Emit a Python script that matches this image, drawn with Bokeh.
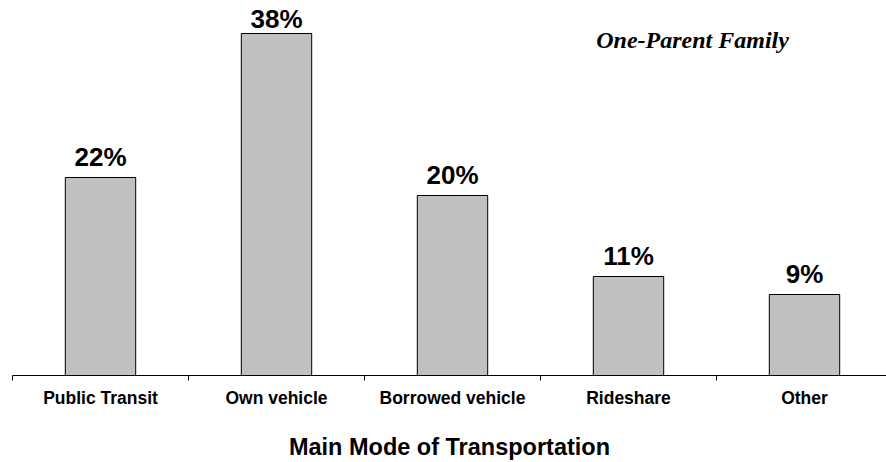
from bokeh.plotting import figure
from bokeh.models import ColumnDataSource, FixedTicker, Range1d, Label
from bokeh.core.properties import value
from bokeh.embed import file_html
from bokeh.resources import INLINE

categories = ["Public Transit", "Own vehicle", "Borrowed vehicle", "Rideshare", "Other"]
shares = [22, 38, 20, 11, 9]
share_labels = [f"{v}%" for v in shares]
subtitle = "One-Parent Family"
axis_title = "Main Mode of Transportation"

LABEL_CEIL = 37.3  # keep value labels inside the top of the plot area
xs = list(range(len(categories)))
label_y = [min(v, LABEL_CEIL) for v in shares]
src = ColumnDataSource(dict(x=xs, top=shares, ly=label_y, lbl=share_labels))

p = figure(width=886, height=462, output_backend="svg", toolbar_location=None,
           x_range=Range1d(-0.5, -0.5 + 874 / 176), y_range=Range1d(0, 367 / 9),
           min_border_left=12, min_border_right=0, min_border_top=8, min_border_bottom=87)
p.outline_line_color = None
p.grid.visible = False
p.yaxis.visible = False

p.vbar(x="x", top="top", bottom=0, width=0.4, source=src,
       fill_color="#C0C0C0", line_color="black", line_width=1)

p.text(x="x", y="ly", text="lbl", source=src, text_align="center",
       text_baseline="alphabetic", y_offset=-21,
       text_font=value("Liberation Sans"), text_font_style="bold",
       text_font_size="26px", text_color="black")

ax = p.xaxis[0]
ax.ticker = FixedTicker(ticks=xs, minor_ticks=[i - 0.5 for i in range(len(categories) + 1)])
ax.major_label_overrides = {i: c for i, c in enumerate(categories)}
ax.major_tick_out = 0
ax.major_tick_in = 0
ax.minor_tick_out = 5
ax.minor_tick_in = 0
ax.minor_tick_line_color = "black"
ax.axis_line_color = "black"
ax.major_label_standoff = 7
ax.major_label_text_font = "Liberation Sans"
ax.major_label_text_font_style = "bold"
ax.major_label_text_font_size = "17.5px"
ax.major_label_text_color = "black"
ax.axis_label = axis_title
ax.axis_label_text_font = "Liberation Sans"
ax.axis_label_text_font_style = "bold"
ax.axis_label_text_font_size = "23.5px"
ax.axis_label_text_color = "black"
ax.axis_label_standoff = 23

p.add_layout(Label(x=3.364, y=37.3, text=subtitle, text_align="center",
                   text_baseline="alphabetic", text_font="Liberation Serif",
                   text_font_style="bold italic", text_font_size="24px",
                   text_color="black"))

open("out.html", "w").write(file_html(p, INLINE))
